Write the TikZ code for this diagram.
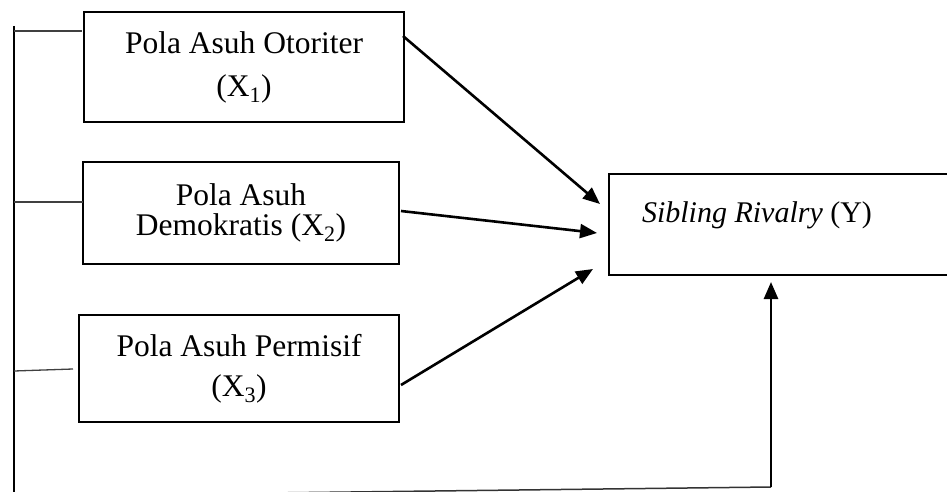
\documentclass[tikz,border=0pt]{standalone}
\usepackage{fontspec}
\setmainfont{Liberation Serif}
\usetikzlibrary{arrows.meta}
\begin{document}
\begin{tikzpicture}[x=1pt,y=-1pt,
  box/.style={draw, line width=2.6pt, inner sep=0pt, align=center},
  arr/.style={line width=2.6pt, -{Triangle[length=17pt,width=14pt]}},
  thin/.style={line width=1.3pt, draw=black!75}]
\clip (0,0) rectangle (947,492);
\fill[white] (0,0) rectangle (947,492);
% boxes
\node[box, minimum width=320pt, minimum height=110pt, font=\fontsize{31.5}{43}\selectfont] (b1) at (244,67)
  {Pola Asuh Otoriter\\(X\textsubscript{1})};
\node[box, minimum width=316pt, minimum height=102pt, font=\fontsize{31.5}{30}\selectfont] (b2) at (241,213)
  {Pola Asuh\\Demokratis (X\textsubscript{2})};
\node[box, minimum width=320pt, minimum height=107pt, font=\fontsize{31.5}{40}\selectfont] (b3) at (239,368.5)
  {Pola Asuh Permisif\\(X\textsubscript{3})};
\node[box, minimum width=360pt, minimum height=101pt] (y) at (789,224.5) {};
\node[font=\fontsize{30}{36}\selectfont, inner sep=0pt] (yt) at (757,215) {\textit{Sibling Rivalry} (Y)};
% coordinates
\coordinate (top) at (14,26);
\coordinate (bot) at (14,496);
\coordinate (s1) at (14,31);
\coordinate (s1e) at (82,31);
\coordinate (s2) at (14,202);
\coordinate (s2e) at (83,202);
\coordinate (s3) at (14,371);
\coordinate (s3e) at (73,369);
\coordinate (a1s) at (403,36);
\coordinate (a1e) at (600,204);
\coordinate (a2s) at (401,211);
\coordinate (a2e) at (597,233);
\coordinate (a3s) at (401,385);
\coordinate (a3e) at (593,269);
\coordinate (c) at (771,487);
\coordinate (a4e) at (771,282);
% left bracket
\draw[line width=1.3pt] (top) -- (bot);
\draw[thin] (s1) -- (s1e);
\draw[thin] (s2) -- (s2e);
\draw[thin] (s3) -- (s3e);
\draw[line width=1.5pt, draw=black!80] (bot) -- (c);
% arrows
\draw[arr] (a1s) -- (a1e);
\draw[arr] (a2s) -- (a2e);
\draw[arr] (a3s) -- (a3e);
\draw[arr] (c) -- (a4e);
\end{tikzpicture}
\end{document}
